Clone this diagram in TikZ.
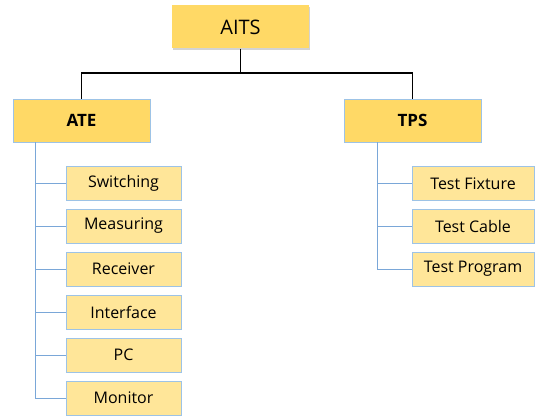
\documentclass[tikz,border=0pt]{standalone}
\usepackage{fontspec}
\setmainfont{Open Sans}
\usetikzlibrary{shadows}
\definecolor{gold}{HTML}{FFD966}
\definecolor{lgold}{HTML}{FFE699}
\definecolor{bord}{HTML}{9DC3E6}
\definecolor{conn}{HTML}{7AA7D8}
\begin{document}
\begin{tikzpicture}[x=1pt,y=-1pt,
  topbox/.style={fill=gold,draw=none,minimum width=137pt,minimum height=43pt,font=\fontsize{20}{23}\selectfont,drop shadow={shadow xshift=1pt,shadow yshift=-1.5pt,opacity=0.35}},
  midbox/.style={fill=gold,draw=bord,line width=0.8pt,minimum width=137pt,minimum height=43pt,font=\fontsize{17}{20}\selectfont\bfseries},
  leaf/.style={fill=lgold,draw=bord,line width=0.8pt,minimum height=34pt,font=\fontsize{16}{19}\selectfont},
  blk/.style={draw=black,line width=1.3pt},
  bl/.style={draw=conn,line width=0.8pt}]
\useasboundingbox (0,0) rectangle (535,417);
\node[topbox] (aits) at (240.5,27) {AITS};
\node[midbox] (ate) at (81.5,120.5) {ATE};
\node[midbox] (tps) at (412.5,120.5) {TPS};
\foreach \n/\t/\y in {sw/Switching/183.5,me/Measuring/226,re/Receiver/269,in/Interface/312,pc/PC/355,mo/Monitor/398}
  \node[leaf,minimum width=115pt] (\n) at (123.5,\y) {\t};
\foreach \n/\t/\y in {tf/Test Fixture/183.5,tc/Test Cable/226,tp/Test Program/269}
  \node[leaf,minimum width=122pt] (\n) at (473,\y) {\t};
\coordinate (j) at (240.5,73);
\draw[blk] (aits.south) -- (j);
\draw[blk] (ate.north) |- (j) -| (tps.north);
\coordinate (al) at (35,142);
\coordinate (tl) at (377,142);
\draw[bl] (al) |- (mo.west);
\foreach \n in {sw,me,re,in,pc} \draw[bl] (\n.west) -- (\n.west -| al);
\draw[bl] (tl) |- (tp.west);
\foreach \n in {tf,tc} \draw[bl] (\n.west) -- (\n.west -| tl);
\end{tikzpicture}
\end{document}
